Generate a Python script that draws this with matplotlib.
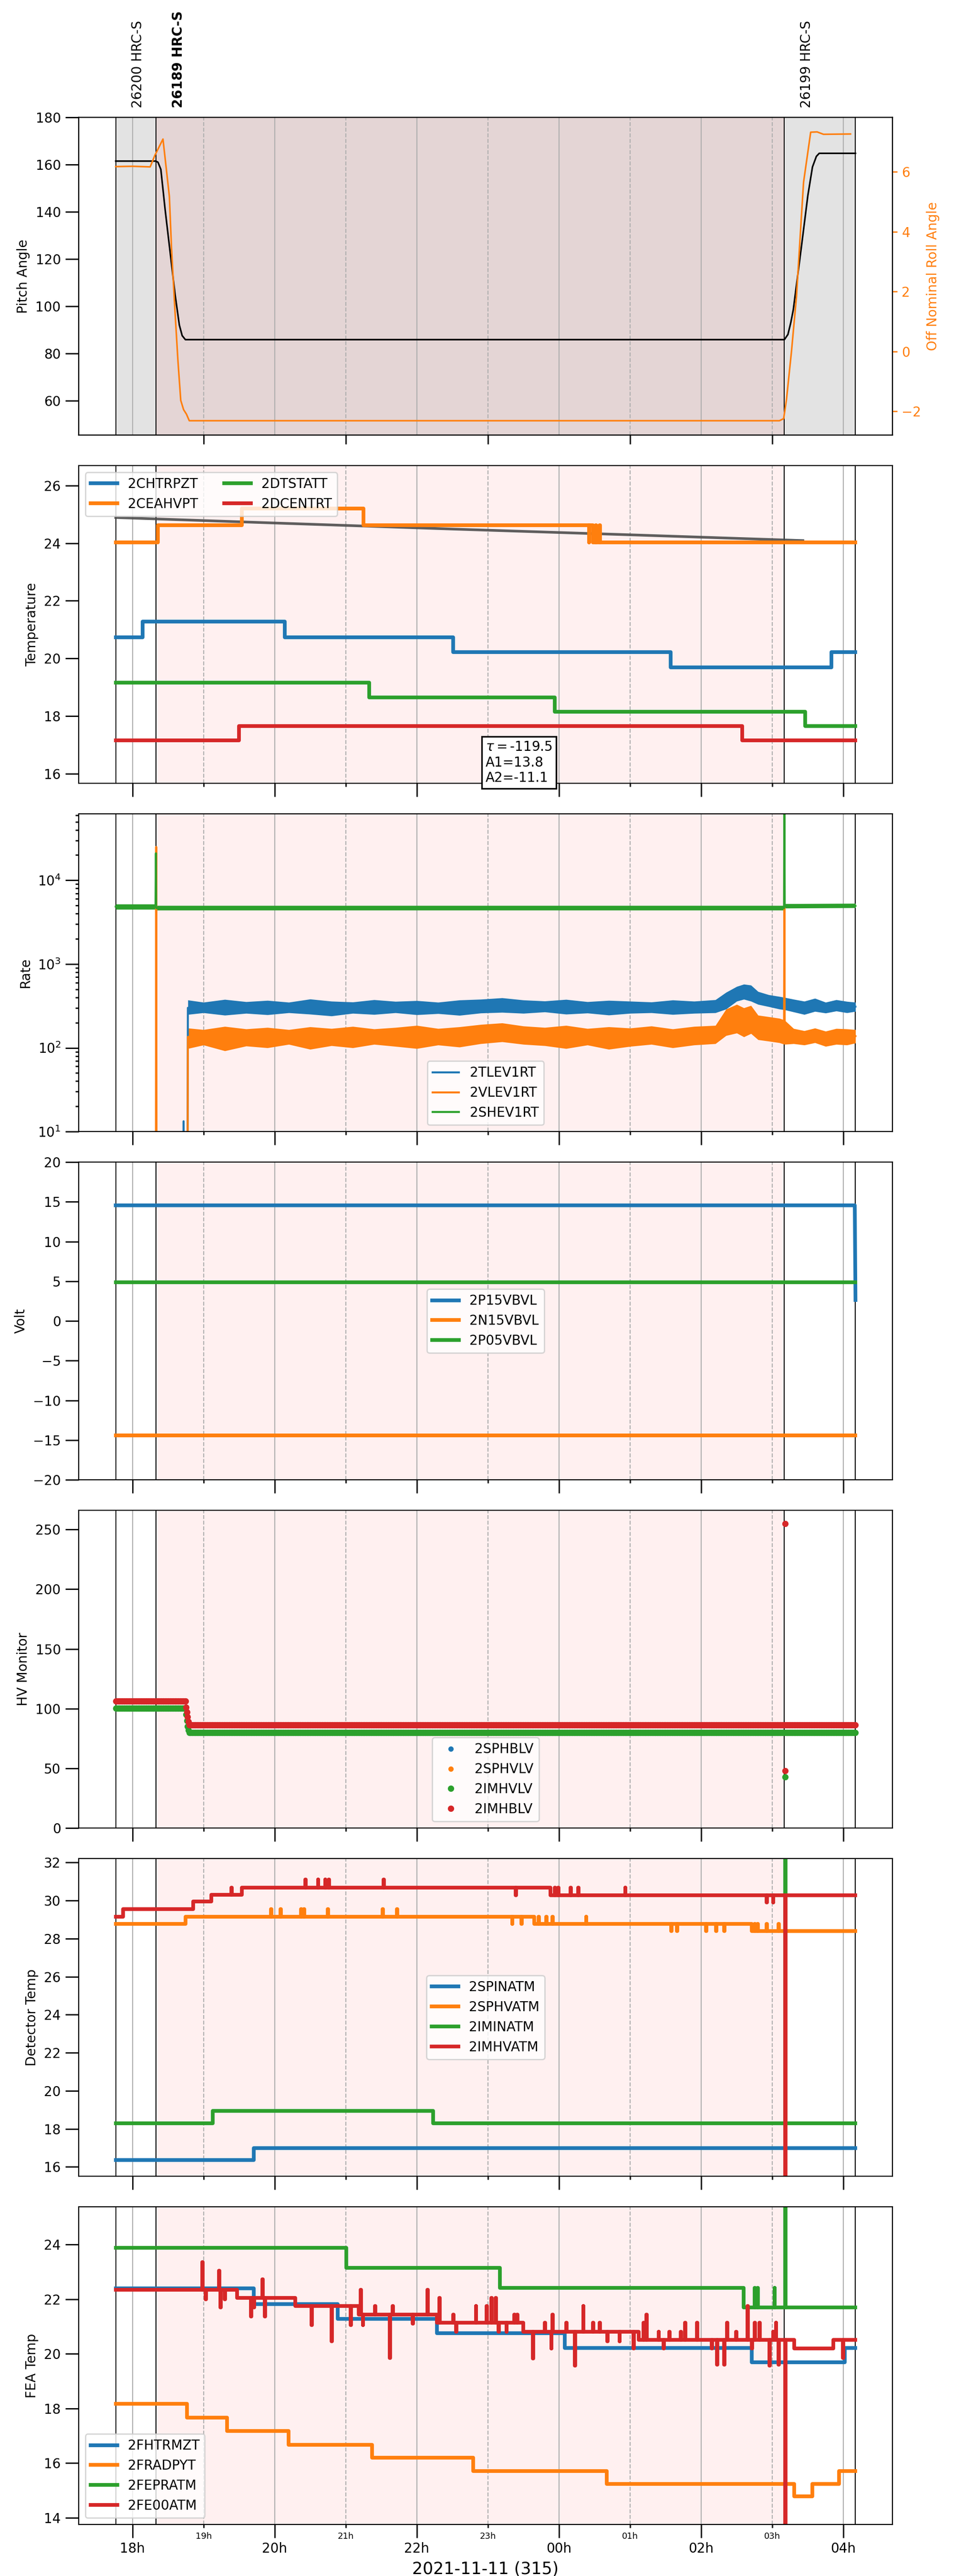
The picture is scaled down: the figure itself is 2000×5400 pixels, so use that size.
import numpy as np
import matplotlib
matplotlib.use("Agg")
import matplotlib.pyplot as plt
from matplotlib.ticker import FixedLocator, FuncFormatter

plt.rcParams['font.family'] = ['DejaVu Sans']
plt.rcParams['font.size'] = 10

# all times are hours since 2021-11-11 00:00
obsids = ['26200 HRC-S', '26189 HRC-S', '26199 HRC-S']
obs_start = [17.765, 18.33, 27.17]
obs_stop = 28.17
focus = 1

C_BLUE, C_ORANGE, C_GREEN, C_RED = '#1f77b4', '#ff7f0e', '#2ca02c', '#d62728'

# --- pitch / roll
pitch_t = [17.765, 18.33, 18.36, 18.40, 18.46, 18.53, 18.60, 18.66, 18.70, 18.745,
           27.17, 27.22, 27.26, 27.295, 27.41, 27.50, 27.565, 27.62, 27.66, 28.17]
pitch_v = [161.5, 161.5, 161.0, 158.0, 141.0, 123.0, 105.0, 92.0, 87.5, 85.8,
           85.8, 88.0, 93.0, 98.4, 125.3, 146.9, 159.0, 163.5, 164.8, 164.8]
roll_t = [17.765, 18.0, 18.25, 18.315, 18.43, 18.52, 18.55, 18.60, 18.64, 18.68, 18.72,
          18.76, 18.80, 27.10, 27.16, 27.20, 27.27, 27.34, 27.41, 27.44, 27.54, 27.63,
          27.72, 28.10]
roll_v = [6.18, 6.19, 6.17, 6.55, 7.10, 5.18, 3.45, 1.3, -0.3, -1.64, -1.95,
          -2.1, -2.32, -2.32, -2.25, -1.6, 0.0, 1.83, 4.53, 5.66, 7.33, 7.34,
          7.26, 7.27]

# --- temperatures (step levels: (start hour, value))
chtrpzt = [(17.765, 20.73), (18.146, 21.27), (20.14, 20.73), (22.51, 20.21), (25.57, 19.68), (27.83, 20.21)]
ceahvpt = [(17.765, 24.03), (18.36, 24.62), (19.54, 25.21), (21.25, 24.62), (24.48, 24.03)]
ceahvpt_spk = [(24.42, 24.03), (24.52, 24.62), (24.57, 24.62)]
dtstatt = [(17.765, 19.16), (21.33, 18.65), (23.94, 18.15), (27.46, 17.65)]
dcentrt = [(17.765, 17.16), (19.5, 17.65), (26.58, 17.16)]
fit_t = [17.765, 20.0, 22.5, 25.0, 27.43]
fit_v = [24.89, 24.70, 24.49, 24.29, 24.09]
fit_text = r'$\tau=$-119.5' + '\nA1=13.8\nA2=-11.1'

# --- rates: line (with spikes) and noise envelope
tlev_t = [17.765, 18.715, 18.72, 18.725, 18.775, 18.78, 19.5, 21.0, 23.0, 23.6, 25.0, 26.2,
          26.4, 26.6, 26.8, 27.0, 27.17, 27.3, 28.17]
tlev_v = [1, 1, 13.3, 1, 1, 300, 300, 300, 305, 320, 305, 310,
          380, 440, 400, 350, 340, 310, 310]
rate_bt = [18.78, 19.0, 19.3, 19.6, 19.9, 20.2, 20.5, 20.8, 21.1, 21.4, 21.7, 22.0, 22.3, 22.6,
           22.9, 23.2, 23.5, 23.8, 24.1, 24.4, 24.7, 25.0, 25.3, 25.6, 25.9, 26.2, 26.35, 26.5,
           26.6, 26.7, 26.8, 26.95, 27.1, 27.17, 27.3, 27.45, 27.6, 27.75, 27.9, 28.05, 28.17]
tlev_lo = [250, 262, 245, 258, 248, 262, 252, 240, 258, 250, 262, 248, 256, 244,
           260, 265, 258, 268, 252, 260, 246, 258, 262, 250, 258, 262, 290, 360,
           380, 360, 330, 310, 290, 285, 268, 250, 272, 260, 275, 262, 272]
tlev_hi = [372, 350, 378, 355, 368, 350, 382, 360, 352, 375, 358, 366, 350, 372,
           380, 395, 372, 362, 378, 355, 368, 360, 352, 372, 360, 375, 460, 540,
           575, 560, 470, 430, 410, 400, 380, 360, 390, 350, 375, 358, 350]
vlev_t = [17.765, 18.33, 18.335, 18.34, 18.775, 18.78, 19.5, 21.0, 23.0, 23.6, 25.0, 26.2,
          26.4, 26.6, 26.8, 27.0, 27.165, 27.17, 27.175, 27.3, 28.17]
vlev_v = [1, 1, 2.5e4, 1, 1, 135, 135, 135, 140, 150, 140, 145,
          200, 230, 180, 165, 160, 4700, 140, 138, 138]
vlev_lo = [98, 108, 92, 105, 100, 110, 96, 106, 100, 110, 104, 98, 108, 102,
           112, 118, 110, 106, 98, 108, 96, 104, 110, 100, 108, 112, 140, 150,
           135, 148, 125, 120, 115, 110, 112, 108, 115, 104, 110, 108, 114]
vlev_hi = [172, 165, 180, 168, 175, 165, 178, 170, 180, 168, 175, 185, 170, 178,
           190, 198, 182, 175, 185, 170, 178, 172, 182, 168, 180, 185, 290, 330,
           300, 320, 245, 235, 225, 215, 170, 160, 172, 158, 170, 168, 165]
shev_t = [17.765, 18.325, 18.33, 18.335, 18.34, 27.165, 27.17, 27.175, 27.18, 28.17]
shev_v = [4850, 4850, 2.1e4, 4650, 4650, 4650, 1.0e5, 4900, 4900, 4950]
shev_bt = [17.765, 18.33, 18.34, 27.17, 27.18, 28.17]
shev_lo = [4500, 4500, 4400, 4400, 4650, 4700]
shev_hi = [5200, 5200, 5000, 5000, 5250, 5300]

# --- voltages
p15vbvl_t = [17.765, 28.16, 28.17]
p15vbvl_v = [14.56, 14.56, 2.64]
n15vbvl_t = [17.765, 28.17]
n15vbvl_v = [-14.39, -14.39]
p05vbvl_t = [17.765, 28.17]
p05vbvl_v = [4.86, 4.86]

# --- HV monitor (no 2SPHBLV / 2SPHVLV points appear in the plot)
hv_dt = 1.0 / 120
imhvlv = [(17.765, 100.2), (18.79, 79.9)]
imhvlv_extra = [(18.755, 95), (18.765, 90), (18.775, 85), (18.785, 82), (27.18, 42.9)]
imhblv = [(17.765, 106.3), (18.79, 86.5)]
imhblv_extra = [(18.755, 101), (18.765, 97), (18.775, 93), (18.785, 89), (27.18, 255), (27.182, 48)]

# --- detector temps
spinatm = [(17.765, 16.37), (19.71, 17.0)]
sphvatm = [(17.765, 28.78), (18.745, 29.16), (23.65, 28.78), (26.71, 28.41)]
sphvatm_spk = [(19.95, 29.55), (20.08, 29.55), (20.37, 29.55), (20.41, 29.55), (20.75, 29.55),
               (21.52, 29.55), (21.72, 29.55), (23.34, 28.78), (23.47, 28.78), (23.71, 29.16),
               (23.82, 29.16), (23.91, 29.16), (24.38, 29.16), (25.58, 28.41), (25.66, 28.41),
               (26.07, 28.41), (26.21, 28.41), (26.32, 28.41), (26.75, 28.78), (26.79, 28.78),
               (26.92, 28.78), (27.09, 28.78)]
iminatm = [(17.765, 18.29), (19.13, 18.95), (22.23, 18.29)]
iminatm_spk = [(27.18, 40.0)]
imhvatm = [(17.765, 29.16), (17.87, 29.55), (18.856, 29.95), (19.113, 30.31), (19.54, 30.68), (23.88, 30.29)]
imhvatm_spk = [(19.39, 30.68), (20.43, 31.1), (20.61, 31.1), (20.71, 31.1), (20.76, 31.1), (21.53, 31.1),
               (23.39, 30.29), (23.94, 30.68), (23.99, 30.68), (24.16, 30.68), (24.27, 30.68),
               (24.93, 30.68), (26.92, 29.9), (27.01, 29.9), (27.18, 0.0)]

# --- FEA temps
fhtrmzt = [(17.765, 22.39), (19.71, 21.82), (20.885, 21.28), (22.28, 20.75), (24.08, 20.21),
           (26.71, 19.68), (28.02, 20.21)]
fradpyt = [(17.765, 18.16), (18.77, 17.66), (19.33, 17.17), (20.2, 16.67), (21.37, 16.19),
           (22.79, 15.71), (24.67, 15.24), (27.31, 14.78), (27.56, 15.24), (27.94, 15.71)]
fepratm = [(17.765, 23.88), (21.01, 23.15), (23.17, 22.41), (26.6, 21.70)]
fepratm_spk = [(26.75, 22.41), (26.79, 22.41), (27.03, 22.41), (27.18, 40.0)]
fe00atm = [(17.765, 22.35), (19.47, 22.04), (20.29, 21.74), (21.18, 21.44), (22.28, 21.13),
           (23.5, 20.81), (25.12, 20.51), (27.31, 20.2), (27.86, 20.51)]
fe00atm_spk = [(18.98, 23.35), (19.03, 22.0), (19.22, 23.04), (19.24, 21.7), (19.30, 22.0),
               (19.67, 21.37), (19.71, 21.7), (19.83, 22.73), (19.86, 21.37), (20.52, 21.05),
               (20.80, 20.45), (21.07, 21.05), (21.21, 22.35), (21.24, 21.05), (21.41, 21.74),
               (21.62, 19.84), (21.66, 21.74), (21.94, 21.1), (22.15, 22.35), (22.32, 22.04),
               (22.51, 21.44), (22.55, 20.8), (22.83, 21.74), (22.98, 21.74), (23.05, 22.04),
               (23.11, 22.04), (23.15, 20.81), (23.26, 20.81), (23.37, 21.44), (23.41, 21.44),
               (23.63, 19.83), (23.80, 21.13), (23.89, 20.2), (23.91, 21.44), (24.10, 21.13),
               (24.22, 19.56), (24.34, 21.74), (24.48, 21.13), (24.57, 21.13), (24.68, 20.45),
               (24.85, 20.45), (25.05, 20.2), (25.19, 21.13), (25.23, 21.44), (25.40, 20.81),
               (25.47, 20.2), (25.55, 20.81), (25.71, 20.81), (25.77, 21.13), (25.94, 21.13),
               (26.15, 20.2), (26.22, 19.6), (26.32, 19.6), (26.36, 21.13), (26.49, 20.81),
               (26.65, 21.74), (26.71, 20.2), (26.75, 21.13), (26.82, 21.13), (26.96, 19.56),
               (27.01, 20.81), (27.05, 21.13), (27.09, 19.6), (27.18, 0.0), (27.99, 19.85)]


def steps(levels, spikes=(), w=0.006):
    lt = np.array([a for a, _ in levels])
    pts = list(levels) + [(obs_stop, levels[-1][1])]
    for ts, vs in spikes:
        base = levels[np.searchsorted(lt, ts, side='right') - 1][1]
        pts += [(ts, vs), (ts + w, base)]
    pts.sort(key=lambda p: p[0])
    t, v = zip(*pts)
    return np.array(t), np.array(v)


def sampled(levels, extra=()):
    t = np.arange(obs_start[0], obs_stop, hv_dt)
    lt = np.array([a for a, _ in levels])
    lv = np.array([b for _, b in levels])
    v = lv[np.searchsorted(lt, t, side='right') - 1]
    keep = (t < 18.75) | (t > 18.79)
    t, v = t[keep], v[keep]
    if extra:
        et, ev = zip(*extra)
        t = np.concatenate([t, et])
        v = np.concatenate([v, ev])
    return t, v


span = obs_stop - obs_start[0]
xlim = (obs_start[0] - 0.05 * span, obs_stop + 0.05 * span)
even_h = [18, 20, 22, 24, 26, 28]
odd_h = [19, 21, 23, 25, 27]
hfmt = FuncFormatter(lambda x, p: '%02dh' % (int(round(x)) % 24))

fig = plt.figure(figsize=(10, 27), dpi=200)
gs = fig.add_gridspec(7, 1, left=0.0825, right=0.9355, top=0.9544, bottom=0.02, hspace=0.0961)
ax1 = fig.add_subplot(gs[0])
ax2 = fig.add_subplot(gs[1])
axes = [ax2] + [fig.add_subplot(gs[i], sharex=ax2) for i in range(2, 7)]
allax = [ax1] + axes

for k, ax in enumerate(allax):
    if k == 0:
        ax.axvspan(obs_start[0], obs_stop, color='0.89', lw=0, zorder=0)
    ax.axvspan(obs_start[focus], obs_start[focus + 1], color='red', alpha=0.06, lw=0, zorder=0)
    for h in even_h:
        ax.axvline(h, color='#b0b0b0', lw=0.8, zorder=0.5)
    for h in odd_h:
        ax.axvline(h, color='#b0b0b0', lw=0.8, ls='--', zorder=0.5)
    for s in obs_start + [obs_stop]:
        ax.axvline(s, color='black', lw=0.7, zorder=0.6)
    ax.set_xlim(*xlim)
    ax.tick_params(axis='y', which='major', length=10, width=1)
    ax.tick_params(axis='x', which='major', length=10, width=1)
    ax.tick_params(axis='both', which='minor', length=2.5, width=1)

# top labels
for i, (name, s) in enumerate(zip(obsids, obs_start)):
    ax1.text(s + 0.22, 1.03, name, transform=ax1.get_xaxis_transform(), rotation=90,
             ha='left', va='bottom', fontsize=10, fontweight='bold' if i == focus else 'normal')

# panel 1
ax1.plot(pitch_t, pitch_v, color='black', lw=1.2)
ax1.set_ylim(45.3, 180)
ax1.set_ylabel('Pitch Angle')
ax1.set_xticks(odd_h)
ax1.tick_params(axis='x', length=7, labelbottom=False)
ax1r = ax1.twinx()
ax1r.plot(roll_t, roll_v, color=C_ORANGE, lw=1.2)
ax1r.set_ylabel('Off Nominal Roll Angle', color=C_ORANGE)
ax1r.tick_params(axis='y', colors=C_ORANGE, width=1)
ax1r.spines['right'].set_color('black')
ax1.set_xlim(*xlim)

# panel 2
lw = 2.8
ax2.plot(fit_t, fit_v, color='0.3', lw=2, alpha=0.9)
for lv, spk, c, lab in [(chtrpzt, (), C_BLUE, '2CHTRPZT'), (ceahvpt, ceahvpt_spk, C_ORANGE, '2CEAHVPT'),
                        (dtstatt, (), C_GREEN, '2DTSTATT'), (dcentrt, (), C_RED, '2DCENTRT')]:
    t, v = steps(lv, spk)
    ax2.plot(t, v, drawstyle='steps-post', color=c, lw=lw, label=lab)
ax2.set_ylim(15.66, 26.69)
ax2.set_ylabel('Temperature')
ax2.legend(loc='upper left', ncol=2)
ax2.text(0.5, 0.135, fit_text, transform=ax2.transAxes, ha='left', va='top', fontsize=10,
         bbox=dict(boxstyle='square,pad=0.3', fc='white', ec='black', lw=1.2), zorder=10)

# panel 3
ax3 = axes[1]
for t, v, bt, lo, hi, c, lab in [(tlev_t, tlev_v, rate_bt, tlev_lo, tlev_hi, C_BLUE, '2TLEV1RT'),
                                 (vlev_t, vlev_v, rate_bt, vlev_lo, vlev_hi, C_ORANGE, '2VLEV1RT'),
                                 (shev_t, shev_v, shev_bt, shev_lo, shev_hi, C_GREEN, '2SHEV1RT')]:
    ax3.fill_between(bt, lo, hi, color=c, lw=0)
    ax3.plot(t, v, color=c, lw=1.5, label=lab)
ax3.set_yscale('log')
ax3.set_ylim(10, 6.2e4)
ax3.set_ylabel('Rate')
ax3.legend(loc='lower center')
ax3.tick_params(axis='y', which='major', length=10, width=1)
ax3.tick_params(axis='y', which='minor', length=2.5, width=1)

# panel 4
ax4 = axes[2]
ax4.plot(p15vbvl_t, p15vbvl_v, color=C_BLUE, lw=lw, label='2P15VBVL')
ax4.plot(n15vbvl_t, n15vbvl_v, color=C_ORANGE, lw=lw, label='2N15VBVL')
ax4.plot(p05vbvl_t, p05vbvl_v, color=C_GREEN, lw=lw, label='2P05VBVL')
ax4.set_ylim(-20, 20)
ax4.set_yticks(range(-20, 21, 5))
ax4.set_ylabel('Volt')
ax4.legend(loc='center')

# panel 5
ax5 = axes[3]
ax5.plot([], [], '.', color=C_BLUE, label='2SPHBLV')
ax5.plot([], [], '.', color=C_ORANGE, label='2SPHVLV')
t, v = sampled(imhvlv, imhvlv_extra)
ax5.plot(t, v, '.', color=C_GREEN, ms=7.5, label='2IMHVLV')
t, v = sampled(imhblv, imhblv_extra)
ax5.plot(t, v, '.', color=C_RED, ms=7.5, label='2IMHBLV')
ax5.set_ylim(0, 266)
ax5.set_ylabel('HV Monitor')
ax5.legend(loc='lower center')

# panel 6
ax6 = axes[4]
for lv, spk, c, lab in [(spinatm, (), C_BLUE, '2SPINATM'), (sphvatm, sphvatm_spk, C_ORANGE, '2SPHVATM'),
                        (iminatm, iminatm_spk, C_GREEN, '2IMINATM'), (imhvatm, imhvatm_spk, C_RED, '2IMHVATM')]:
    t, v = steps(lv, spk)
    ax6.plot(t, v, drawstyle='steps-post', color=c, lw=lw, label=lab)
ax6.set_ylim(15.51, 32.21)
ax6.set_ylabel('Detector Temp')
ax6.legend(loc='center')

# panel 7
ax7 = axes[5]
for lv, spk, c, lab in [(fhtrmzt, (), C_BLUE, '2FHTRMZT'), (fradpyt, (), C_ORANGE, '2FRADPYT'),
                        (fepratm, fepratm_spk, C_GREEN, '2FEPRATM'), (fe00atm, fe00atm_spk, C_RED, '2FE00ATM')]:
    t, v = steps(lv, spk)
    ax7.plot(t, v, drawstyle='steps-post', color=c, lw=lw, label=lab)
ax7.set_ylim(13.75, 25.38)
ax7.set_ylabel('FEA Temp')
ax7.legend(loc='lower left')

ax2.xaxis.set_major_locator(FixedLocator(even_h))
ax2.xaxis.set_minor_locator(FixedLocator(odd_h))
ax2.xaxis.set_major_formatter(hfmt)
ax2.xaxis.set_minor_formatter(hfmt)
for ax in axes[:-1]:
    ax.tick_params(axis='x', which='both', labelbottom=False)
ax7.tick_params(axis='x', which='major', labelsize=10)
ax7.tick_params(axis='x', which='minor', labelsize=6.5)
ax7.set_xlabel('2021-11-11 (315)', fontsize=12.5)
ax2.set_xlim(*xlim)

fig.savefig('out.png', dpi=200)
